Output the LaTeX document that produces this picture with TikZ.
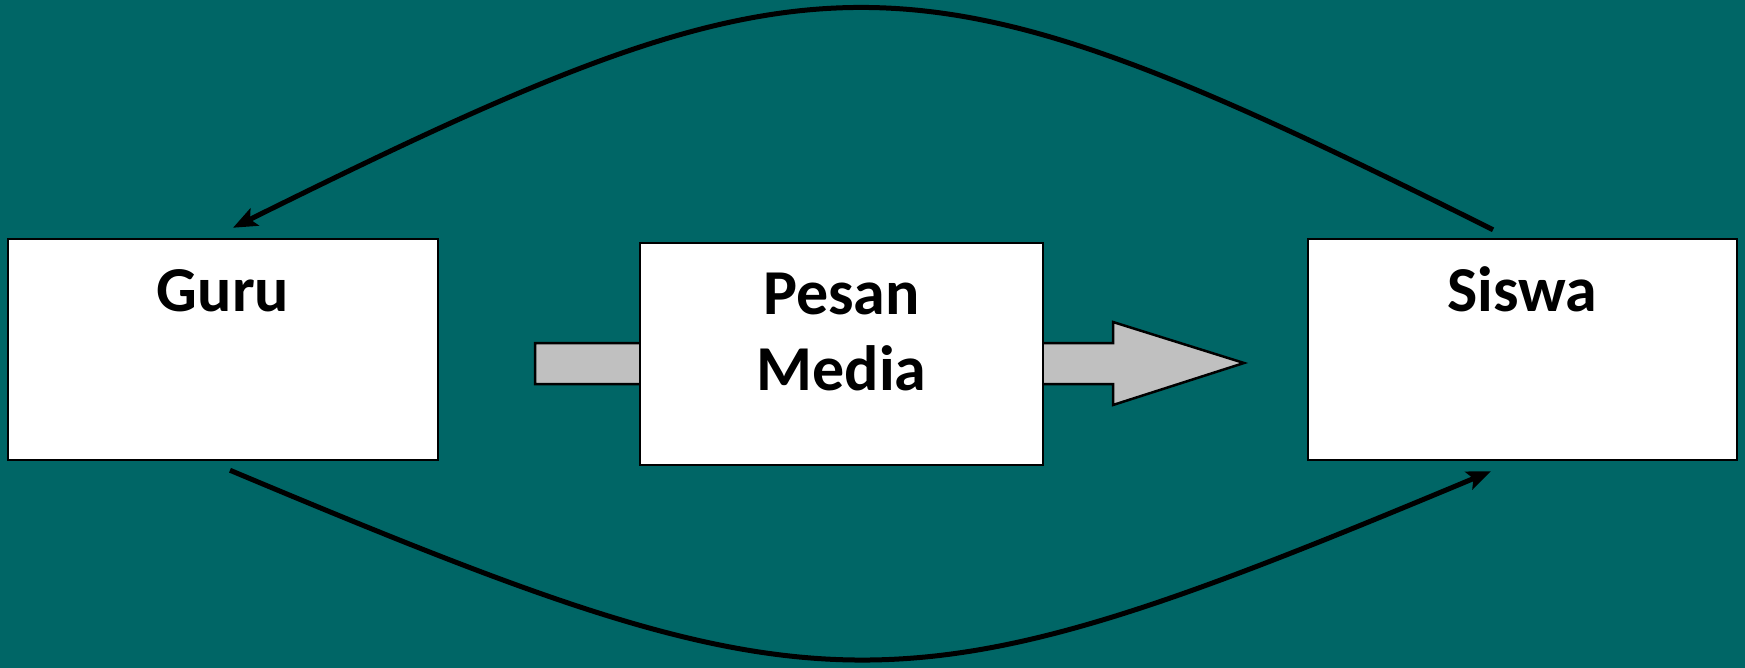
\documentclass[tikz,border=0pt]{standalone}
\usepackage{fontspec}
\setmainfont{Carlito}
\usetikzlibrary{arrows.meta}
\definecolor{bgteal}{RGB}{0,102,102}
\definecolor{fatgray}{RGB}{192,192,192}
\begin{document}
\begin{tikzpicture}[x=1pt,y=-1pt,
  box/.style={draw=black,line width=2.5pt,fill=white,inner sep=0pt},
  lbl/.style={inner sep=0pt,font=\fontsize{64}{75}\selectfont\bfseries,align=center},
  flow/.style={line width=5pt,-{Stealth[length=24pt,width=19pt,inset=5pt]}}]
\fill[bgteal] (0,0) rectangle (1745,668);
\useasboundingbox (0,0) rectangle (1745,668);
% fat arrow behind the middle box
\draw[fill=fatgray,line width=2.5pt,line join=miter]
  (535,343) -- (1113,343) -- (1113,322) -- (1244,363) -- (1113,405) -- (1113,384) -- (535,384) -- cycle;
% boxes
\node[box,minimum width=430pt,minimum height=221pt] (guru) at (223,349.5) {};
\node[box,minimum width=403pt,minimum height=222pt] (pesan) at (841.5,354) {};
\node[box,minimum width=429pt,minimum height=221pt] (siswa) at (1522.5,349.5) {};
% labels
\node[lbl,anchor=base] (tguru) at (223,312) {Guru};
\node[lbl,anchor=base] (tpesan) at (841.5,315) {Pesan};
\node[lbl,anchor=base] (tmedia) at (841.5,390) {Media};
\node[lbl,anchor=base] (tsiswa) at (1522.5,312) {Siswa};
% connector end points
\coordinate (s1) at ([xshift=-29.5pt,yshift=8pt]siswa.north);
\coordinate (g1) at ([xshift=10pt,yshift=10pt]guru.north);
\coordinate (g2) at ([xshift=7pt,yshift=-9pt]guru.south);
\coordinate (s2) at ([xshift=-31.5pt,yshift=-10pt]siswa.south);
% curves
\draw[flow] (s1) .. controls (903,-65) and (824,-65) .. (g1);
\draw[flow] (g2) .. controls (830,722) and (891,722) .. (s2);
\end{tikzpicture}
\end{document}
